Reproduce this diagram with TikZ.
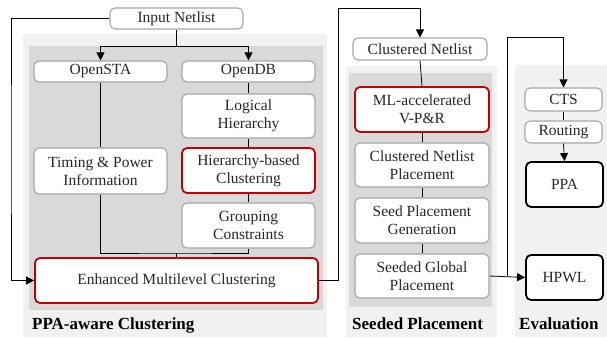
\documentclass[tikz,border=0pt]{standalone}
\usepackage{fontspec}
\setmainfont{Liberation Serif}
\usetikzlibrary{arrows.meta}
\definecolor{lightpanel}{HTML}{F1F1F1}
\definecolor{darkpanel}{HTML}{D9D9D9}
\definecolor{boxgray}{HTML}{A6A6A6}
\definecolor{redb}{HTML}{C00000}
\definecolor{txt}{HTML}{262626}
\begin{document}
\begin{tikzpicture}[x=1pt,y=-1pt,
  font=\fontsize{15.5}{18}\selectfont,
  box/.style={draw=boxgray,line width=1.1pt,rounded corners=5pt,fill=white,
    text=txt,align=center,inner sep=0pt},
  redbox/.style={box,draw=redb,line width=1.8pt},
  blackbox/.style={box,draw=black,line width=1.8pt},
  conn/.style={line width=0.8pt,draw=black},
  arr/.style={conn,-{Triangle[length=8pt,width=8pt]}},
  plabel/.style={font=\fontsize{17}{20}\selectfont\bfseries,anchor=west,inner sep=0pt}]
\useasboundingbox (0,0) rectangle (607,337);
% panels
\fill[lightpanel] (23,34) rectangle (327,337);
\fill[darkpanel] (29,46) rectangle (323,310);
\fill[lightpanel] (346,66) rectangle (497,337);
\fill[darkpanel] (349,73) rectangle (492,307);
\fill[lightpanel] (515,65) rectangle (607,337);
% nodes
\node[box,minimum width=133pt,minimum height=21pt] (in) at (176.5,18.5) {Input Netlist};
\node[box,minimum width=133pt,minimum height=21pt] (sta) at (100.5,71.5) {OpenSTA};
\node[box,minimum width=133pt,minimum height=21pt] (odb) at (248.5,71.5) {OpenDB};
\node[box,minimum width=133pt,minimum height=44pt] (lh) at (248.5,116) {Logical\\Hierarchy};
\node[redbox,minimum width=133pt,minimum height=45pt] (hbc) at (248.5,170.5) {Hierarchy-based\\Clustering};
\node[box,minimum width=133pt,minimum height=46pt] (tp) at (100.5,171) {Timing \& Power\\Information};
\node[box,minimum width=133pt,minimum height=45pt] (gc) at (248.5,225.5) {Grouping\\Constraints};
\node[redbox,minimum width=283pt,minimum height=45pt] (emc) at (176.5,280.5) {Enhanced Multilevel Clustering};
\node[box,minimum width=134pt,minimum height=22pt] (cn) at (420,49) {Clustered Netlist};
\node[redbox,minimum width=134pt,minimum height=45pt] (ml) at (422,109.5) {ML-accelerated\\V-P\&R};
\node[box,minimum width=134pt,minimum height=44pt] (cnp) at (422,165) {Clustered Netlist\\Placement};
\node[box,minimum width=134pt,minimum height=45pt] (spg) at (422,220.5) {Seed Placement\\Generation};
\node[box,minimum width=134pt,minimum height=44pt] (sgp) at (422,276) {Seeded Global\\Placement};
\node[box,minimum width=77pt,minimum height=23pt] (cts) at (563.5,99.5) {CTS};
\node[box,minimum width=77pt,minimum height=22pt] (rt) at (563.5,132) {Routing};
\node[blackbox,minimum width=77pt,minimum height=45pt] (ppa) at (564.5,184.5) {PPA};
\node[blackbox,minimum width=77pt,minimum height=45pt] (hpwl) at (564.5,277.5) {HPWL};
% labels
\node[plabel] (l1) at (32,325) {PPA-aware Clustering};
\node[plabel] (l2) at (352,324) {Seeded Placement};
\node[plabel] (l3) at (519,324) {Evaluation};
% coordinates
\coordinate (br) at (176.5,46);
\coordinate (lf) at (11,150);
\coordinate (jn) at (176.5,253);
\coordinate (rt1) at (338,8);
\coordinate (e0) at (507,276);
\coordinate (e1) at (507,37);
% connectors
\draw[conn] (in.south) -- (br);
\draw[arr] (br) -| (sta.north);
\draw[arr] (br) -| (odb.north);
\draw[conn] (sta.south) -- (tp.north);
\draw[conn] (odb.south) -- (lh.north);
\draw[conn] (lh.south) -- (hbc.north);
\draw[conn] (hbc.south) -- (gc.north);
\draw[conn] (tp.south) |- (jn) -| (gc.south);
\draw[conn] (jn) -- (emc.north);
\draw[arr] (in.west) -| (lf) |- (emc.west);
\draw[arr] (emc.east) -| (rt1) -| (cn.north);
\draw[conn] (cn.south) -- (ml.north);
\draw[conn] (ml.south) -- (cnp.north);
\draw[conn] (cnp.south) -- (spg.north);
\draw[conn] (spg.south) -- (sgp.north);
\draw[arr] (sgp.east) -- (hpwl.west);
\draw[arr] (e0) |- (e1) -| (cts.north);
\draw[conn] (cts.south) -- (rt.north);
\draw[arr] (rt.south) -- (ppa.north);
\end{tikzpicture}
\end{document}
